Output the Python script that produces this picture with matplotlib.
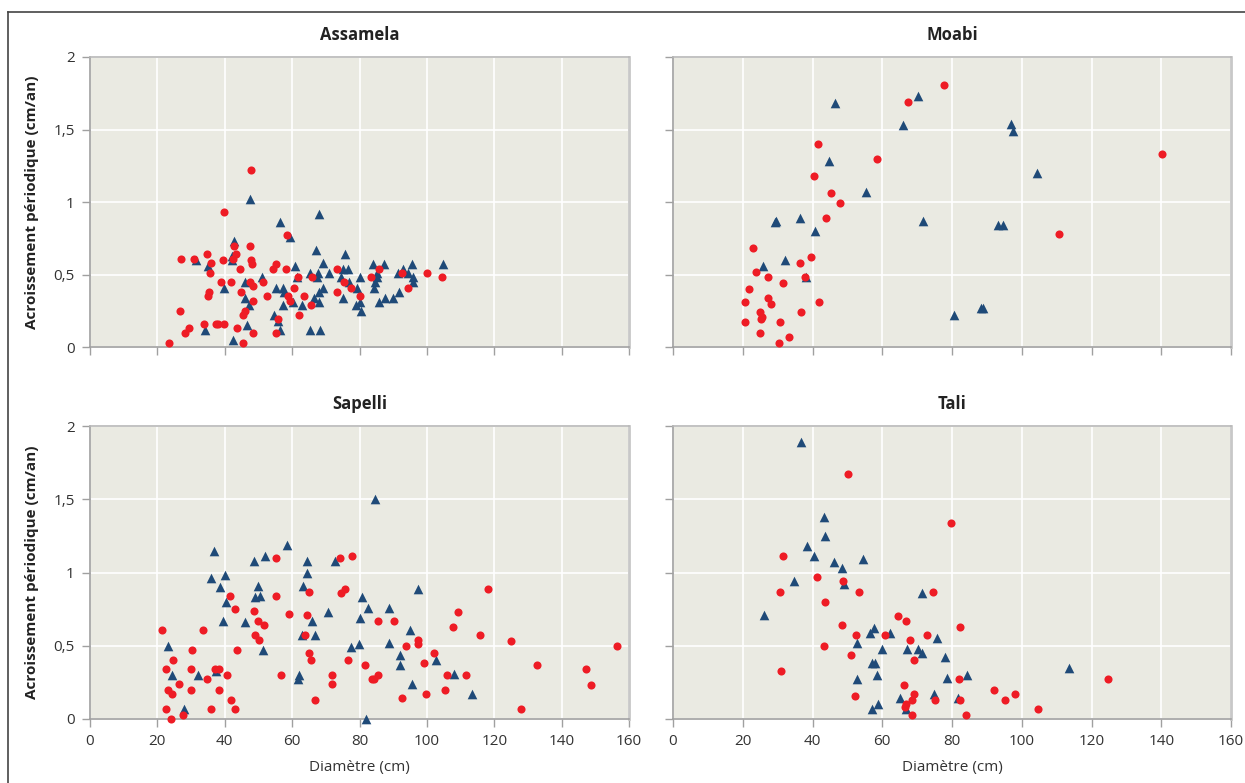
import matplotlib
matplotlib.use("Agg")
import matplotlib.pyplot as plt
from matplotlib.lines import Line2D

plt.rcParams['font.family'] = ['Open Sans', 'DejaVu Sans']

# Données : diamètre (cm) et accroissement (cm/an)
# ronds rouges et triangles bleus, pour chaque essence
assamela_rond_d = [47.8, 39.9, 58.4, 47.6, 42.8, 43.4, 34.6, 42.4, 27.1, 31.0, 47.9, 48.0, 36.0, 39.5,
                   44.4, 55.1, 54.4, 58.2, 35.7, 73.3, 85.8, 100.0, 92.5, 104.6, 83.5, 65.9, 61.6, 39.0,
                   41.9, 47.6, 51.3, 48.5, 75.5, 77.6, 94.3, 60.7, 73.3, 44.7, 35.2, 35.1, 52.4, 58.8,
                   63.6, 80.0, 59.3, 48.3, 65.7, 26.6, 46.1, 45.5, 62.1, 55.8, 33.7, 37.4, 38.1, 39.7,
                   29.3, 43.5, 28.1, 48.3, 55.3, 23.5, 45.4]
assamela_rond_g = [1.22, 0.93, 0.77, 0.70, 0.70, 0.64, 0.64, 0.61, 0.61, 0.61, 0.60, 0.57, 0.58, 0.60,
                   0.54, 0.57, 0.54, 0.54, 0.51, 0.54, 0.54, 0.51, 0.51, 0.48, 0.48, 0.48, 0.48, 0.45,
                   0.45, 0.45, 0.45, 0.42, 0.45, 0.41, 0.41, 0.41, 0.38, 0.38, 0.38, 0.35, 0.35, 0.35,
                   0.35, 0.35, 0.32, 0.32, 0.29, 0.25, 0.25, 0.22, 0.22, 0.19, 0.16, 0.16, 0.16, 0.16,
                   0.13, 0.13, 0.10, 0.10, 0.10, 0.03, 0.03]
assamela_tri_d = [47.6, 68.0, 56.5, 59.3, 42.8, 42.2, 67.2, 75.7, 42.2, 31.4, 34.9, 60.9, 69.2, 84.1,
                  87.2, 95.5, 104.7, 92.9, 75.2, 76.7, 65.3, 67.8, 70.8, 91.5, 94.5, 85.1, 67.3, 74.5,
                  80.0, 85.3, 95.8, 51.1, 61.5, 46.0, 95.8, 84.5, 76.9, 57.3, 55.3, 69.1, 84.4, 39.8,
                  79.2, 57.6, 68.1, 91.7, 46.1, 66.5, 75.0, 87.6, 89.9, 60.3, 68.0, 85.9, 57.3, 63.0,
                  47.1, 78.9, 80.1, 80.3, 54.5, 55.9, 46.7, 34.2, 56.3, 65.4, 68.2, 42.4]
assamela_tri_g = [1.02, 0.92, 0.86, 0.76, 0.73, 0.63, 0.67, 0.64, 0.60, 0.60, 0.56, 0.56, 0.58, 0.57,
                  0.57, 0.57, 0.57, 0.54, 0.54, 0.54, 0.51, 0.51, 0.51, 0.51, 0.51, 0.51, 0.48, 0.48,
                  0.48, 0.48, 0.48, 0.48, 0.48, 0.45, 0.45, 0.45, 0.45, 0.41, 0.41, 0.41, 0.41, 0.41,
                  0.41, 0.38, 0.38, 0.38, 0.34, 0.34, 0.34, 0.34, 0.34, 0.31, 0.31, 0.31, 0.29, 0.29,
                  0.29, 0.29, 0.31, 0.25, 0.22, 0.18, 0.15, 0.12, 0.12, 0.12, 0.12, 0.05]

moabi_rond_d = [77.7, 67.5, 41.6, 58.5, 40.3, 45.4, 47.9, 43.8, 23.0, 39.5, 36.3, 23.9, 27.2, 37.8,
                31.6, 21.7, 27.3, 20.7, 28.1, 41.9, 24.9, 25.6, 25.3, 36.7, 20.6, 30.7, 24.9, 33.4,
                30.4, 140.1, 110.8]
moabi_rond_g = [1.81, 1.69, 1.40, 1.30, 1.18, 1.06, 0.99, 0.89, 0.68, 0.62, 0.58, 0.52, 0.48, 0.48,
                0.44, 0.40, 0.34, 0.31, 0.30, 0.31, 0.24, 0.21, 0.19, 0.24, 0.17, 0.17, 0.10, 0.07,
                0.03, 1.33, 0.78]
moabi_tri_d = [70.3, 46.4, 65.9, 44.8, 55.4, 36.3, 29.6, 29.2, 40.7, 71.8, 32.2, 25.9, 38.1, 80.5,
               96.8, 97.6, 104.5, 93.3, 94.7, 88.2, 88.9]
moabi_tri_g = [1.73, 1.68, 1.53, 1.28, 1.07, 0.89, 0.87, 0.86, 0.80, 0.87, 0.60, 0.56, 0.48, 0.22,
               1.54, 1.49, 1.20, 0.84, 0.84, 0.27, 0.27]

sapelli_rond_d = [77.8, 74.3, 55.3, 75.8, 74.6, 65.1, 41.7, 55.3, 43.1, 48.7, 59.0, 64.5, 50.0, 51.7,
                  21.4, 33.5, 49.0, 50.1, 63.8, 30.2, 43.6, 65.0, 24.5, 65.5, 76.6, 22.5, 30.0, 37.1,
                  38.3, 81.7, 40.8, 56.6, 71.9, 34.7, 26.3, 71.9, 23.2, 24.4, 30.0, 38.4, 42.0, 66.7,
                  22.7, 36.0, 43.1, 27.7, 23.9, 118.1, 109.3, 107.9, 85.6, 90.2, 115.9, 125.0, 97.5,
                  97.3, 93.9, 156.4, 102.2, 99.0, 132.6, 147.2, 85.6, 83.8, 84.3, 106.0, 111.7, 148.7,
                  105.4, 99.8, 92.7, 128.0]
sapelli_rond_g = [1.11, 1.10, 1.10, 0.89, 0.86, 0.87, 0.84, 0.84, 0.75, 0.74, 0.72, 0.71, 0.67, 0.64,
                  0.61, 0.61, 0.57, 0.54, 0.57, 0.47, 0.47, 0.45, 0.40, 0.40, 0.40, 0.34, 0.34, 0.34,
                  0.34, 0.37, 0.30, 0.30, 0.30, 0.27, 0.24, 0.24, 0.20, 0.17, 0.20, 0.20, 0.13, 0.13,
                  0.07, 0.07, 0.07, 0.03, 0.00, 0.89, 0.73, 0.63, 0.67, 0.67, 0.57, 0.53, 0.54,
                  0.51, 0.50, 0.50, 0.45, 0.38, 0.37, 0.34, 0.30, 0.27, 0.27, 0.30, 0.30, 0.23,
                  0.20, 0.17, 0.14, 0.07]
sapelli_tri_d = [58.5, 36.9, 51.8, 48.7, 64.3, 72.8, 64.3, 40.0, 36.0, 49.8, 38.5, 63.3, 49.0, 50.4,
                 80.6, 40.5, 82.4, 70.7, 80.0, 65.9, 39.6, 45.9, 62.9, 66.8, 23.1, 79.9, 51.4, 77.4,
                 24.4, 32.1, 37.3, 62.1, 61.7, 28.0, 81.8, 84.7, 97.5, 88.8, 95.0, 88.7, 92.1, 92.0,
                 102.8, 108.1, 95.7, 113.5]
sapelli_tri_g = [1.19, 1.15, 1.11, 1.08, 1.08, 1.08, 1.00, 0.98, 0.96, 0.91, 0.90, 0.91, 0.83, 0.84,
                 0.83, 0.80, 0.76, 0.73, 0.69, 0.67, 0.67, 0.66, 0.57, 0.57, 0.50, 0.51, 0.47, 0.49,
                 0.30, 0.30, 0.33, 0.30, 0.27, 0.07, 0.00, 1.50, 0.89, 0.76, 0.61, 0.52, 0.44, 0.37,
                 0.40, 0.31, 0.24, 0.17]

tali_rond_d = [50.2, 79.6, 31.4, 41.2, 48.7, 30.8, 53.4, 74.6, 43.7, 64.4, 66.7, 82.2, 48.6, 52.4,
               60.9, 72.7, 68.0, 43.4, 51.1, 69.1, 31.1, 66.2, 69.0, 52.3, 68.5, 75.0, 66.8, 66.4,
               68.4, 82.1, 82.4, 84.1, 91.9, 95.2, 98.0, 104.6, 124.8]
tali_rond_g = [1.67, 1.34, 1.11, 0.97, 0.94, 0.87, 0.87, 0.87, 0.80, 0.70, 0.67, 0.63, 0.64, 0.57,
               0.57, 0.57, 0.54, 0.50, 0.44, 0.40, 0.33, 0.23, 0.17, 0.16, 0.13, 0.13, 0.10, 0.08,
               0.03, 0.27, 0.13, 0.03, 0.20, 0.13, 0.17, 0.07, 0.27]
tali_tri_d = [36.7, 43.3, 43.7, 38.3, 40.5, 54.6, 46.3, 48.6, 34.8, 49.1, 71.3, 26.0, 57.7, 56.5,
              62.1, 52.9, 75.8, 59.9, 67.0, 70.2, 71.5, 77.9, 57.2, 57.9, 58.6, 52.9, 78.6, 65.0,
              74.7, 81.6, 58.9, 57.0, 66.7, 84.3, 113.5]
tali_tri_g = [1.89, 1.38, 1.25, 1.18, 1.11, 1.09, 1.07, 1.03, 0.94, 0.92, 0.86, 0.71, 0.62, 0.59,
              0.59, 0.52, 0.55, 0.48, 0.48, 0.48, 0.45, 0.42, 0.38, 0.38, 0.30, 0.27, 0.28, 0.14,
              0.17, 0.14, 0.10, 0.07, 0.07, 0.30, 0.35]

essences = ["Assamela", "Moabi", "Sapelli", "Tali"]
donnees = {
    "Assamela": (assamela_rond_d, assamela_rond_g, assamela_tri_d, assamela_tri_g),
    "Moabi": (moabi_rond_d, moabi_rond_g, moabi_tri_d, moabi_tri_g),
    "Sapelli": (sapelli_rond_d, sapelli_rond_g, sapelli_tri_d, sapelli_tri_g),
    "Tali": (tali_rond_d, tali_rond_g, tali_tri_d, tali_tri_g),
}
x_ticks = [0, 20, 40, 60, 80, 100, 120, 140, 160]
y_ticks = [0, 0.5, 1, 1.5, 2]
y_labels = ["0", "0,5", "1", "1,5", "2"]

rouge = "#ee1c25"
bleu = "#1f4a78"
fond = "#eaeae2"
gris = "#a0a0a0"

W, H = 1245, 783
fig = plt.figure(figsize=(W / 100, H / 100), dpi=100)

# positions des panneaux en pixels (gauche, haut, droite, bas)
boites = [(90, 57, 629, 347), (673, 57, 1231, 347),
          (90, 426, 629, 719), (673, 426, 1231, 719)]

for i, nom in enumerate(essences):
    l, t, r, b = boites[i]
    ax = fig.add_axes([l / W, 1 - b / H, (r - l) / W, (b - t) / H])
    ax.set_facecolor(fond)
    ax.set_xlim(0, 160)
    ax.set_ylim(0, 2)
    ax.set_xticks(x_ticks)
    ax.set_yticks(y_ticks)
    ax.grid(True, color="white", linewidth=1.2)
    ax.set_axisbelow(True)
    for s in ax.spines.values():
        s.set_color(gris)
        s.set_linewidth(1.2)
    ax.spines["right"].set_color("#c8c8c8")
    ax.spines["right"].set_linewidth(2)
    ax.spines["top"].set_color("#b8b8b8")
    ax.tick_params(direction="out", length=6, width=1, color=gris, labelsize=11,
                   labelcolor="#333333", pad=5)

    rd, rg, td, tg = donnees[nom]
    ax.scatter(td, tg, marker="^", s=48, color=bleu, linewidths=0, zorder=3, clip_on=False)
    ax.scatter(rd, rg, marker="o", s=34, color=rouge, linewidths=0, zorder=4, clip_on=False)

    ax.set_title(nom, fontsize=12, fontweight="bold", color="#222222", pad=12)

    if i % 2 == 0:
        ax.set_yticklabels(y_labels)
        ax.set_ylabel("Acroissement périodique (cm/an)", fontsize=11, fontweight="bold",
                      color="#222222", labelpad=10)
    else:
        ax.set_yticklabels([])
    if i >= 2:
        ax.set_xticklabels([str(v) for v in x_ticks])
        ax.set_xlabel("Diamètre (cm)", fontsize=11, color="#333333", labelpad=8)
    else:
        ax.set_xticklabels([])

# cadre extérieur (haut et gauche)
fig.add_artist(Line2D([7.5 / W, 7.5 / W], [0, 1 - 11.5 / H], transform=fig.transFigure,
                      color="#444444", linewidth=1.2))
fig.add_artist(Line2D([7.5 / W, 1], [1 - 11.5 / H, 1 - 11.5 / H], transform=fig.transFigure,
                      color="#444444", linewidth=1.2))

fig.savefig("out.png", dpi=100)
